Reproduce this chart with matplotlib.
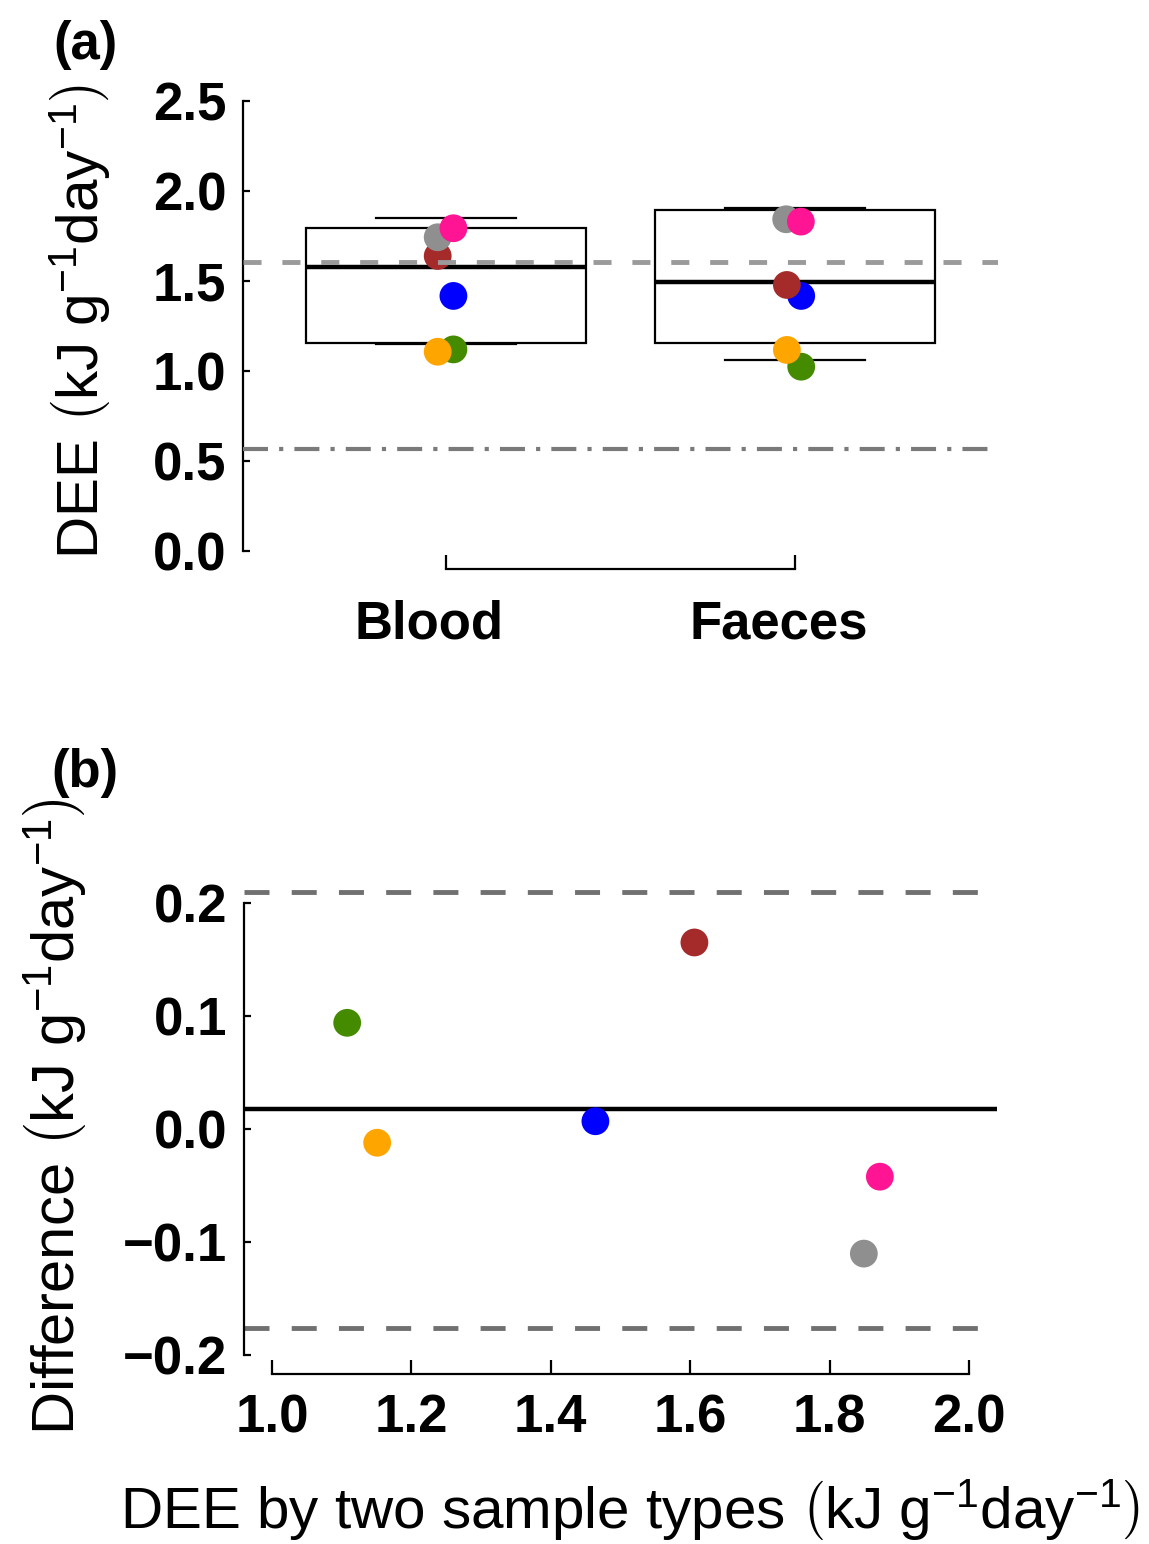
import matplotlib
matplotlib.use("Agg")
import matplotlib.pyplot as plt
import matplotlib.transforms as mtransforms

plt.rcParams['font.family'] = ['Liberation Sans', 'DejaVu Sans']
plt.rcParams['mathtext.fontset'] = 'custom'
plt.rcParams['mathtext.rm'] = 'Liberation Sans'
plt.rcParams['mathtext.it'] = 'Liberation Sans:italic'
plt.rcParams['mathtext.bf'] = 'Liberation Sans:bold'
plt.rcParams['lines.scale_dashes'] = False

# ---------------- data ----------------
groups = ['Blood', 'Faeces']
box_q1 = [1.154, 1.154]
box_med = [1.576, 1.493]
box_q3 = [1.793, 1.894]
whisk_lo = [1.148, 1.061]
whisk_hi = [1.852, 1.904]

ind_colors = ['#8f8f8f', '#ff1493', '#a52a2a', '#0000ff', '#ffa500', '#458b00']
blood_dee = [1.743, 1.793, 1.639, 1.417, 1.107, 1.120]
faeces_dee = [1.843, 1.830, 1.478, 1.417, 1.117, 1.024]
blood_jit = [-0.023, 0.022, -0.023, 0.022, -0.023, 0.022]
faeces_jit = [-0.026, 0.016, -0.024, 0.017, -0.024, 0.017]
draw_order = [5, 4, 3, 2, 0, 1]

ref_dash_a = 1.606
ref_dashdot_a = 0.567

ba_mean = [1.849, 1.872, 1.606, 1.464, 1.151, 1.108]
ba_diff = [-0.110, -0.042, 0.165, 0.007, -0.012, 0.094]
bias = 0.0174
loa_upper = 0.2095
loa_lower = -0.176

yticks_a = [0.0, 0.5, 1.0, 1.5, 2.0, 2.5]
yticks_b = [-0.2, -0.1, 0.0, 0.1, 0.2]
xticks_b = [1.0, 1.2, 1.4, 1.6, 1.8, 2.0]

# ---------------- figure ----------------
W, H = 1149, 1544
fig = plt.figure(figsize=(W / 100, H / 100), dpi=100)

TICK_FS = 38
LAB_FS = 42
DOT = 400

# ---- panel (a) ----
axa = fig.add_axes([243 / W, 1 - 569 / H, (998 - 243) / W, (569 - 83) / H])
axa.set_xlim(0.42, 2.58)
axa.set_ylim(-0.1, 2.6)

stats = []
for i, g in enumerate(groups):
    stats.append(dict(label=g, med=box_med[i], q1=box_q1[i], q3=box_q3[i],
                      whislo=whisk_lo[i], whishi=whisk_hi[i], fliers=[]))
axa.bxp(stats, positions=[1, 2], widths=0.8, showfliers=False, patch_artist=True,
        boxprops=dict(facecolor='white', edgecolor='black', linewidth=1.6),
        medianprops=dict(color='black', linewidth=3.2),
        whiskerprops=dict(linewidth=0),
        capprops=dict(color='black', linewidth=1.6), capwidths=0.4,
        zorder=2)

for k in draw_order:
    axa.scatter(1 + blood_jit[k], blood_dee[k], s=DOT, color=ind_colors[k],
                edgecolors='none', zorder=4)
    axa.scatter(2 + faeces_jit[k], faeces_dee[k], s=DOT, color=ind_colors[k],
                edgecolors='none', zorder=4)

axa.axhline(ref_dash_a, color='#9a9a9a', linewidth=3.5, linestyle=(0, (13, 15)), zorder=5)
axa.axhline(ref_dashdot_a, color='#7a7a7a', linewidth=3.0,
            linestyle=(0, (18, 8, 3, 8)), zorder=5)

for s in ['top', 'right']:
    axa.spines[s].set_visible(False)
axa.spines['left'].set_bounds(0, 2.5)
axa.spines['bottom'].set_bounds(1, 2)
axa.spines['left'].set_linewidth(1.6)
axa.spines['bottom'].set_linewidth(1.6)
axa.set_yticks(yticks_a)
axa.set_yticklabels([f'{v:.1f}' for v in yticks_a], fontsize=TICK_FS, fontweight='bold')
axa.set_xticks([1, 2])
axa.set_xticklabels(groups, fontsize=TICK_FS, fontweight='bold')
axa.tick_params(axis='y', direction='in', length=5, width=1.6, pad=12)
axa.tick_params(axis='x', direction='in', length=10, width=1.6, pad=22)
shift = mtransforms.ScaledTranslation(-17 / 100, 0, fig.dpi_scale_trans)
for lab in axa.get_xticklabels():
    lab.set_transform(lab.get_transform() + shift)

fig.text(85 / W, 1 - 45 / H, '(a)', fontsize=TICK_FS, fontweight='bold',
         ha='center', va='center')
fig.text(80 / W, 1 - 322 / H, r'DEE $\left(\mathrm{kJ\ g^{-1}day^{-1}}\right)$',
         fontsize=LAB_FS, rotation=90, ha='center', va='center')

# ---- panel (b) ----
axb = fig.add_axes([244 / W, 1 - 1374 / H, (997 - 244) / W, (1374 - 873) / H])
axb.set_xlim(0.96, 2.04)
axb.set_ylim(-0.2164, 0.2264)

axb.axhline(loa_upper, color='#707070', linewidth=3.5, linestyle=(0, (18, 16)), zorder=2)
axb.axhline(loa_lower, color='#707070', linewidth=3.5, linestyle=(0, (18, 16)), zorder=2)
axb.axhline(bias, color='black', linewidth=3.2, zorder=2)

for k in draw_order:
    axb.scatter(ba_mean[k], ba_diff[k], s=DOT, color=ind_colors[k],
                edgecolors='none', zorder=4)

for s in ['top', 'right']:
    axb.spines[s].set_visible(False)
axb.spines['left'].set_bounds(-0.2, 0.2)
axb.spines['bottom'].set_bounds(1.0, 2.0)
axb.spines['left'].set_linewidth(1.6)
axb.spines['bottom'].set_linewidth(1.6)
axb.set_yticks(yticks_b)
axb.set_yticklabels([f'{v:.1f}'.replace('-', '\u2212') for v in yticks_b],
                    fontsize=TICK_FS, fontweight='bold')
axb.set_xticks(xticks_b)
axb.set_xticklabels([f'{v:.1f}' for v in xticks_b], fontsize=TICK_FS, fontweight='bold')
axb.tick_params(axis='y', direction='in', length=5, width=1.6, pad=12)
axb.tick_params(axis='x', direction='in', length=10, width=1.6, pad=14)

fig.text(85 / W, 1 - 773 / H, '(b)', fontsize=TICK_FS, fontweight='bold',
         ha='center', va='center')
fig.text(55 / W, 1 - 1117 / H, r'Difference $\left(\mathrm{kJ\ g^{-1}day^{-1}}\right)$',
         fontsize=LAB_FS + 1, rotation=90, ha='center', va='center')
fig.text(630 / W, 1 - 1510 / H, r'DEE by two sample types $\left(\mathrm{kJ\ g^{-1}day^{-1}}\right)$',
         fontsize=LAB_FS, ha='center', va='center')

fig.savefig('out.png', dpi=100)
